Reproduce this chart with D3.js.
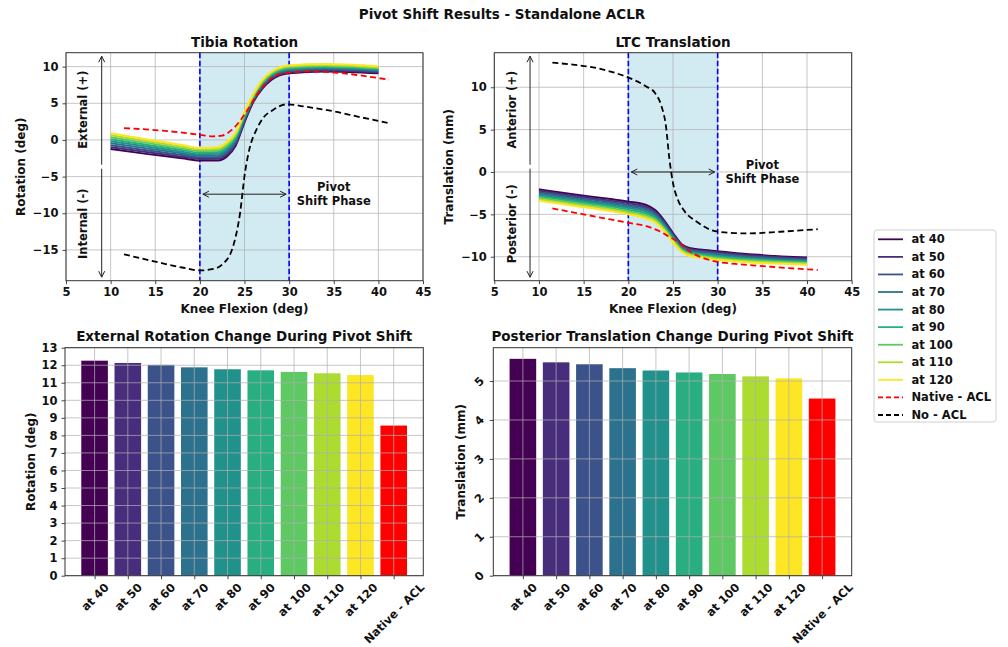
<!DOCTYPE html>
<html><head><meta charset="utf-8">
<script src="https://cdn.jsdelivr.net/npm/d3@7"></script>
<style>
body{margin:0;background:#fff;}
svg{font-family:"DejaVu Sans",sans-serif;font-weight:bold;}
</style></head><body>
<svg id="c" width="1008" height="647"></svg>
<script>
// ---------------- DATA ----------------
const seriesNames = ["at 40","at 50","at 60","at 70","at 80","at 90","at 100","at 110","at 120"];
const seriesColors = ["#440154","#472d7b","#3b528b","#2c728e","#21918c","#28ae80","#5ec962","#addc30","#fde725"];
const nativeName = "Native - ACL", noAclName = "No - ACL";
const nativeColor = "#ff0000", noAclColor = "#000000";

const flexX = [10,14,18,20,22,23,24,25,26,27,28,30,34,40];

// Tibia rotation (deg), one array per series
const rot40  = [-1.25,-1.9,-2.5,-2.8,-2.8,-2.3,-0.8,2.4,5.2,7.0,8.2,9.1,9.35,9.1];
const rot50  = [-0.98,-1.65,-2.28,-2.59,-2.58,-2.05,-0.58,2.58,5.34,7.15,8.34,9.24,9.48,9.22];
const rot60  = [-0.71,-1.4,-2.05,-2.37,-2.35,-1.8,-0.35,2.75,5.48,7.3,8.48,9.38,9.6,9.34];
const rot70  = [-0.44,-1.15,-1.83,-2.16,-2.13,-1.55,-0.13,2.93,5.61,7.45,8.61,9.51,9.73,9.46];
const rot80  = [-0.17,-0.9,-1.6,-1.95,-1.9,-1.3,0.1,3.1,5.75,7.6,8.75,9.65,9.85,9.58];
const rot90  = [0.09,-0.65,-1.38,-1.74,-1.68,-1.05,0.33,3.28,5.89,7.75,8.89,9.79,9.98,9.69];
const rot100 = [0.36,-0.4,-1.15,-1.52,-1.45,-0.8,0.55,3.45,6.03,7.9,9.03,9.93,10.1,9.81];
const rot110 = [0.63,-0.15,-0.93,-1.31,-1.23,-0.55,0.78,3.63,6.16,8.05,9.16,10.06,10.23,9.93];
const rot120 = [0.9,0.1,-0.7,-1.1,-1.0,-0.3,1.0,3.8,6.3,8.2,9.3,10.2,10.35,10.05];

const rotNativeX = [11.5,15,18,20,21.5,22.5,23.5,24.5,25.5,26.5,27.5,28.5,30,32,35,38,41.2];
const rotNativeY = [1.6,1.35,1.0,0.7,0.5,0.6,1.3,2.6,4.4,6.4,7.9,8.8,9.2,9.35,9.2,8.8,8.2];
const rotNoAclX = [11.5,15,18,20,21.5,22.5,23.7,24.5,25.05,25.6,26.3,27.1,28.2,29.7,32,35,38,41.2];
const rotNoAclY = [-15.6,-16.6,-17.4,-17.8,-17.6,-17.0,-14.6,-10,-4.5,-1.0,1.3,3.0,4.1,4.85,4.5,3.9,3.1,2.3];

// LTC translation (mm)
const tr40  = [-2.05,-2.65,-3.2,-3.5,-3.9,-4.5,-5.7,-7.2,-8.55,-9.0,-9.15,-9.35,-9.75,-10.1];
const tr50  = [-2.22,-2.82,-3.38,-3.69,-4.1,-4.68,-5.86,-7.34,-8.66,-9.12,-9.27,-9.48,-9.87,-10.21];
const tr60  = [-2.39,-2.99,-3.55,-3.88,-4.3,-4.86,-6.01,-7.48,-8.78,-9.24,-9.39,-9.61,-9.99,-10.31];
const tr70  = [-2.56,-3.16,-3.73,-4.06,-4.5,-5.04,-6.17,-7.61,-8.89,-9.36,-9.51,-9.74,-10.11,-10.42];
const tr80  = [-2.73,-3.33,-3.9,-4.25,-4.7,-5.23,-6.33,-7.75,-9.0,-9.48,-9.63,-9.88,-10.23,-10.53];
const tr90  = [-2.89,-3.49,-4.08,-4.44,-4.9,-5.41,-6.48,-7.89,-9.11,-9.59,-9.74,-10.01,-10.34,-10.63];
const tr100 = [-3.06,-3.66,-4.25,-4.63,-5.1,-5.59,-6.64,-8.03,-9.23,-9.71,-9.86,-10.14,-10.46,-10.74];
const tr110 = [-3.23,-3.83,-4.43,-4.81,-5.3,-5.77,-6.79,-8.16,-9.34,-9.83,-9.98,-10.27,-10.58,-10.84];
const tr120 = [-3.4,-4.0,-4.6,-5.0,-5.5,-5.95,-6.95,-8.3,-9.45,-9.95,-10.1,-10.4,-10.7,-10.95];

const trNativeX = [11.5,15,18,20,22,23.5,24.5,25.5,26.5,27.5,28.5,30,32,35,38,41.2];
const trNativeY = [-4.3,-5.0,-5.6,-6.0,-6.4,-7.0,-7.6,-8.2,-9.1,-9.75,-10.2,-10.6,-10.85,-11.1,-11.35,-11.55];
const trNoAclX = [11.5,14,16.5,18.5,20,22,23,23.7,24.2,24.6,25,25.6,26.2,27.7,30,33.3,37,41.2];
const trNoAclY = [12.9,12.65,12.25,11.7,11.15,10.1,9.3,7.8,5.5,1.5,-1.3,-3.4,-4.5,-5.9,-7.05,-7.25,-7.05,-6.75];

// Bar charts
const barCategories = ["at 40","at 50","at 60","at 70","at 80","at 90","at 100","at 110","at 120","Native - ACL"];
const barColors = ["#440154","#472d7b","#3b528b","#2c728e","#21918c","#28ae80","#5ec962","#addc30","#fde725","#ff0000"];
const rotChange = [12.26,12.13,12.02,11.88,11.77,11.71,11.62,11.54,11.44,8.56];
const transChange = [5.57,5.48,5.43,5.33,5.27,5.22,5.18,5.12,5.07,4.55];

const flexTicks = [5,10,15,20,25,30,35,40,45];
const rotTicks = [-15,-10,-5,0,5,10];
const trTicks = [-10,-5,0,5,10];
const rotBarTicks = d3.range(0,14);
const trBarTicks = [0,1,2,3,4,5];

// ---------------- DRAWING ----------------
const svg = d3.select("#c");
svg.append("rect").attr("width",1008).attr("height",647).attr("fill","#fff");
const TICK_FS = 11.5, TITLE_FS = 13.5, LABEL_FS = 12;
const GRID = "#b0b0b0";

svg.append("text").attr("x",502).attr("y",14).attr("text-anchor","middle")
  .attr("dominant-baseline","central").attr("font-size",13.5).attr("fill","#111")
  .text("Pivot Shift Results - Standalone ACLR");

function styleAxis(g){
  g.select(".domain").remove();
  g.selectAll(".tick line").attr("stroke","#333").attr("stroke-width",0.9);
  g.selectAll(".tick text").attr("font-size",TICK_FS).attr("font-weight","bold")
    .attr("fill","#111").attr("font-family",'"DejaVu Sans",sans-serif');
}
function grid(g,x,y,xt,yt){
  const [x0,x1]=x.range(), [y0,y1]=y.range();
  const gg=g.append("g").attr("stroke",GRID).attr("stroke-width",0.9).attr("stroke-opacity",0.8);
  gg.selectAll("line.v").data(xt).join("line").attr("class","v")
    .attr("x1",d=>x(d)).attr("x2",d=>x(d)).attr("y1",y0).attr("y2",y1);
  gg.selectAll("line.h").data(yt).join("line").attr("class","h")
    .attr("x1",x0).attr("x2",x1).attr("y1",d=>y(d)).attr("y2",d=>y(d));
}
function frame(g,x,y){
  const [x0,x1]=x.range(), [y0,y1]=y.range();
  g.append("rect").attr("x",x0).attr("y",y1).attr("width",x1-x0).attr("height",y0-y1)
    .attr("fill","none").attr("stroke","#333").attr("stroke-width",1);
}
function ylabel(g,text,cx,cy){
  g.append("text").attr("transform",`translate(${cx},${cy}) rotate(-90)`).attr("text-anchor","middle")
    .attr("dominant-baseline","central").attr("font-size",LABEL_FS).attr("fill","#111").text(text);
}
function title(g,text,cx,cy){
  g.append("text").attr("x",cx).attr("y",cy).attr("text-anchor","middle").attr("dominant-baseline","central")
    .attr("font-size",TITLE_FS).attr("fill","#111").text(text);
}
function arrow(g,x1,y1,x2,y2,color,both){
  const len=Math.hypot(x2-x1,y2-y1), ux=(x2-x1)/len, uy=(y2-y1)/len;
  const hl=6, hw=3;
  g.append("line").attr("x1",x1).attr("y1",y1).attr("x2",x2).attr("y2",y2).attr("stroke",color).attr("stroke-width",1);
  const head=(px,py,dx,dy)=>{
    const bx=px-dx*hl, by=py-dy*hl;
    g.append("path").attr("d",`M${bx-dy*hw},${by+dx*hw}L${px},${py}L${bx+dy*hw},${by-dx*hw}`)
      .attr("fill","none").attr("stroke",color).attr("stroke-width",1);
  };
  head(x2,y2,ux,uy); if(both) head(x1,y1,-ux,-uy);
}

function lineChart(o){
  const g=svg.append("g");
  const x=d3.scaleLinear().domain([5,45]).range([o.left,o.right]);
  const y=d3.scaleLinear().domain(o.yDomain).range([o.bottom,o.top]);
  g.append("rect").attr("x",x(20)).attr("y",o.top).attr("width",x(30)-x(20)).attr("height",o.bottom-o.top)
    .attr("fill","#add8e6").attr("fill-opacity",0.55);
  grid(g,x,y,flexTicks,o.yTicks);
  [20,30].forEach(v=>g.append("line").attr("x1",x(v)).attr("x2",x(v)).attr("y1",o.top).attr("y2",o.bottom)
    .attr("stroke","#0000ff").attr("stroke-width",1.6).attr("stroke-dasharray","5.5,2.5"));
  const line=d3.line().x(d=>x(d[0])).y(d=>y(d[1])).curve(d3.curveMonotoneX);
  o.series.forEach((s,i)=>{
    g.append("path").datum(flexX.map((v,j)=>[v,s[j]])).attr("d",line)
      .attr("fill","none").attr("stroke",seriesColors[i]).attr("stroke-width",2);
  });
  g.append("path").datum(o.natX.map((v,j)=>[v,o.natY[j]])).attr("d",line).attr("fill","none")
    .attr("stroke",nativeColor).attr("stroke-width",1.8).attr("stroke-dasharray","6,3.5");
  g.append("path").datum(o.noX.map((v,j)=>[v,o.noY[j]])).attr("d",line).attr("fill","none")
    .attr("stroke",noAclColor).attr("stroke-width",1.8).attr("stroke-dasharray","6,3.5");
  const [ylo,yhi]=o.yDomain, mid=(ylo+yhi)/2;
  arrow(g,x(9),y(mid)-2,x(9),o.top+3.5,"#222",false);
  arrow(g,x(9),y(mid)+2,x(9),o.bottom-3.5,"#222",false);
  g.append("text").attr("transform",`translate(${x(o.sideX)},${y((yhi+mid)/2)}) rotate(-90)`)
    .attr("text-anchor","middle").attr("dominant-baseline","central").attr("font-size",11.5).attr("fill","#111").text(o.upText);
  g.append("text").attr("transform",`translate(${x(o.sideX)},${y((ylo+mid)/2)}) rotate(-90)`)
    .attr("text-anchor","middle").attr("dominant-baseline","central").attr("font-size",11.5).attr("fill","#111").text(o.downText);
  arrow(g,x(20)+3,y(o.arrowY),x(30)-3,y(o.arrowY),"#222",true);
  const tg=g.append("text").attr("text-anchor","middle").attr("font-size",11.5).attr("fill","#111");
  tg.append("tspan").attr("x",x(35)).attr("y",y(o.arrowY)-7).attr("dominant-baseline","central").text("Pivot");
  tg.append("tspan").attr("x",x(35)).attr("y",y(o.arrowY)+7).attr("dominant-baseline","central").text("Shift Phase");
  frame(g,x,y);
  const ax=g.append("g").attr("transform",`translate(0,${o.bottom})`)
    .call(d3.axisBottom(x).tickValues(flexTicks).tickSize(3.5).tickPadding(4).tickFormat(d3.format("d")));
  styleAxis(ax);
  const ay=g.append("g").attr("transform",`translate(${o.left},0)`)
    .call(d3.axisLeft(y).tickValues(o.yTicks).tickSize(3.5).tickPadding(4).tickFormat(d3.format("d")));
  styleAxis(ay);
  title(g,o.title,(o.left+o.right)/2,41.5);
  g.append("text").attr("x",(o.left+o.right)/2).attr("y",309).attr("text-anchor","middle")
    .attr("dominant-baseline","central").attr("font-size",LABEL_FS).attr("fill","#111").text("Knee Flexion (deg)");
  ylabel(g,o.ylabel,o.ylabelX,(o.top+o.bottom)/2);
}

lineChart({left:66,right:423,top:52.7,bottom:280.7,yDomain:[-19.2,11.9],yTicks:rotTicks,
  series:[rot40,rot50,rot60,rot70,rot80,rot90,rot100,rot110,rot120],
  natX:rotNativeX,natY:rotNativeY,noX:rotNoAclX,noY:rotNoAclY,
  upText:"External (+)",downText:"Internal (-)",sideX:6.95,arrowY:-7.4,
  title:"Tibia Rotation",ylabel:"Rotation (deg)",ylabelX:21});
lineChart({left:494.3,right:851.7,top:52.7,bottom:280.7,yDomain:[-12.83,14.08],yTicks:trTicks,
  series:[tr40,tr50,tr60,tr70,tr80,tr90,tr100,tr110,tr120],
  natX:trNativeX,natY:trNativeY,noX:trNoAclX,noY:trNoAclY,
  upText:"Anterior (+)",downText:"Posterior (-)",sideX:6.95,arrowY:0,
  title:"LTC Translation",ylabel:"Translation (mm)",ylabelX:449});

function barChart(o){
  const g=svg.append("g");
  const x=d3.scaleLinear().domain([-0.89,barCategories.length-1+0.89]).range([o.left,o.right]);
  const y=d3.scaleLinear().domain(o.yDomain).range([o.bottom,o.top]);
  const idx=barCategories.map((c,i)=>i);
  g.selectAll("rect.bar").data(o.values).join("rect").attr("class","bar")
    .attr("x",(d,i)=>x(i-0.4)).attr("width",(d,i)=>x(i+0.4)-x(i-0.4))
    .attr("y",d=>y(d)).attr("height",d=>y(0)-y(d)).attr("fill",(d,i)=>barColors[i]);
  grid(g,x,y,idx,o.yTicks);
  frame(g,x,y);
  const ax=g.append("g").attr("transform",`translate(0,${o.bottom})`)
    .call(d3.axisBottom(x).tickValues(idx).tickSize(3.5).tickFormat(i=>barCategories[i]));
  styleAxis(ax);
  ax.selectAll(".tick text").each(function(){
    const t=d3.select(this);
    t.attr("text-anchor","middle").attr("dominant-baseline","central").attr("dy",null).attr("y",null);
    const w=this.getComputedTextLength(), h=TICK_FS*1.0;
    const cy=5.5+(w+h)*0.3536;
    t.attr("transform",`translate(0,${cy}) rotate(-45)`);
  });
  const ay=g.append("g").attr("transform",`translate(${o.left},0)`)
    .call(d3.axisLeft(y).tickValues(o.yTicks).tickSize(3.5).tickPadding(4).tickFormat(d3.format("d")));
  styleAxis(ay);
  if(o.rotY){
    ay.selectAll(".tick text").each(function(){
      const t=d3.select(this);
      t.attr("text-anchor","middle").attr("dominant-baseline","central").attr("dy",null).attr("x",null);
      t.attr("transform",`translate(-14,0) rotate(-45)`);
    });
  }
  title(g,o.title,(o.left+o.right)/2,336);
  ylabel(g,o.ylabel,o.ylabelX,(o.top+o.bottom)/2);
}
barChart({left:65,right:423.3,top:347.7,bottom:575.7,yDomain:[0,13],yTicks:rotBarTicks,values:rotChange,
  title:"External Rotation Change During Pivot Shift",ylabel:"Rotation (deg)",ylabelX:31});
barChart({left:493.3,right:851.7,top:347.7,bottom:575.7,yDomain:[0,5.856],yTicks:trBarTicks,values:transChange,rotY:true,
  title:"Posterior Translation Change During Pivot Shift",ylabel:"Translation (mm)",ylabelX:461});

// Legend
const leg=svg.append("g");
leg.append("rect").attr("x",874).attr("y",230).attr("width",122).attr("height",192).attr("rx",3)
  .attr("fill","#fff").attr("fill-opacity",0.8).attr("stroke","#d0d0d0").attr("stroke-width",1);
const legItems=seriesNames.map((n,i)=>({name:n,color:seriesColors[i],dash:null}))
  .concat([{name:nativeName,color:nativeColor,dash:"5,3"},{name:noAclName,color:noAclColor,dash:"5,3"}]);
legItems.forEach((it,i)=>{
  const yy=239.3+i*17.57;
  leg.append("line").attr("x1",878).attr("x2",903).attr("y1",yy).attr("y2",yy).attr("stroke",it.color)
    .attr("stroke-width",1.8).attr("stroke-dasharray",it.dash);
  leg.append("text").attr("x",911.5).attr("y",yy).attr("dominant-baseline","central")
    .attr("font-size",11.5).attr("fill","#111").text(it.name);
});
</script></body></html>
